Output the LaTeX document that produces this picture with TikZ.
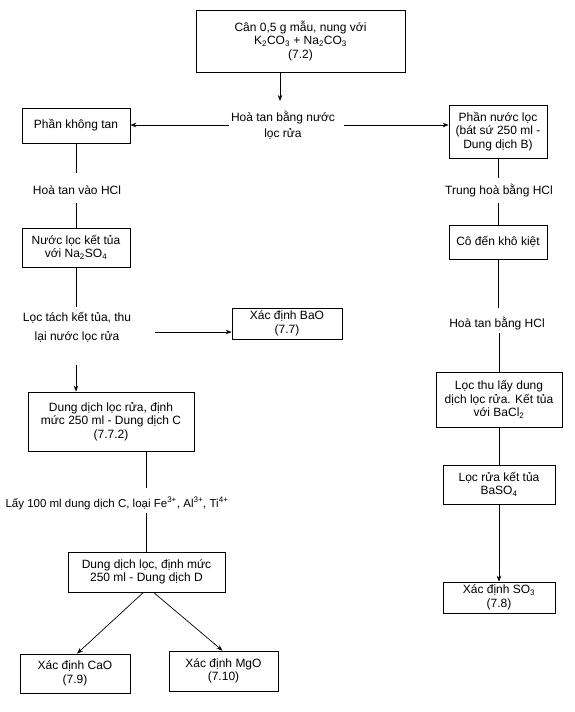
\documentclass[tikz,border=0pt]{standalone}
\usepackage{fontspec}
\setmainfont{Liberation Sans}
\usetikzlibrary{arrows.meta,calc}
\newcommand\fsz{\fontsize{12}{13.5}\selectfont}
\tikzset{
  box/.style={draw, line width=0.7pt, align=center, inner sep=0pt, font=\fsz},
  lbl/.style={align=center, font=\fsz, inner sep=0pt},
  vlbl/.style={font=\fsz, inner xsep=0pt, inner ysep=0pt, anchor=base},
  ln/.style={line width=0.7pt},
  arr/.style={ln, -{Stealth[length=6pt,width=4.5pt]}},
}
\begin{document}
\begin{tikzpicture}[x=1pt,y=-1pt]
\useasboundingbox (0,0) rectangle (575,712);
% top
\node[box, minimum width=209pt, minimum height=62pt] (start) at (300.5,41)
  {Cân 0,5 g mẫu, nung với\\K\textsubscript{2}CO\textsubscript{3} + Na\textsubscript{2}CO\textsubscript{3}\\(7.2)};
\node[lbl] (hoa) at (283,125) {Hoà tan bằng nước\\[3pt]lọc rửa};
\coordinate (hoatip) at (280,101);
\draw[arr] (start.south -| hoatip) -- (hoatip);
% left column
\node[box, minimum width=108pt, minimum height=35pt] (pkt) at (76,125.5) {Phần không tan};
\node[box, minimum width=98pt, minimum height=53pt] (pnl) at (498,131.5)
  {Phần nước lọc\\(bát sứ 250 ml -\\Dung dịch B)};
\draw[arr] ([xshift=-2pt]hoa.west) -- (hoa.west -| pkt.east);
\draw[arr] ([xshift=9pt]hoa.east) -- (hoa.east -| pnl.west);

\node[vlbl, text height=21pt, text depth=9pt] (hcl1) at (77,194) {Hoà tan vào HCl};
\node[box, minimum width=108pt, minimum height=39pt] (nl) at (76,247.5)
  {Nước lọc kết tủa\\với Na\textsubscript{2}SO\textsubscript{4}};
\draw[ln] (pkt.south) -- (pkt.south |- hcl1.north);
\draw[ln] (nl.north |- hcl1.south) -- (nl.north);

\node[lbl] (loc) at (77,327) {Lọc tách kết tủa, thu\\[5.5pt]lại nước lọc rửa};
\node[box, minimum width=110pt, minimum height=31pt] (bao) at (287,323.5) {Xác định BaO\\(7.7)};
\draw[ln] (nl.south) -- ([yshift=-40pt]nl.south);
\draw[arr] ([xshift=24pt,yshift=-5pt]loc.east) -- ([yshift=-5pt]loc.east -| bao.west);

\node[box, minimum width=166pt, minimum height=59pt] (boxC) at (111,421.5)
  {Dung dịch lọc rửa, định\\mức 250 ml - Dung dịch C\\(7.7.2)};
\draw[arr] ([yshift=27pt]nl.south |- boxC.north) -- (nl.south |- boxC.north);

\node[vlbl, text height=19pt, text depth=6pt, font=\fontsize{11.5}{13}\selectfont] (lay) at (117,507)
  {Lấy 100 ml dung dịch C, loại Fe\textsuperscript{3+}, Al\textsuperscript{3+}, Ti\textsuperscript{4+}};
\node[box, minimum width=157pt, minimum height=40pt] (boxD) at (146.5,572)
  {Dung dịch lọc, định mức\\250 ml - Dung dịch D};
\draw[ln] (boxC.south -| boxD.north) -- (lay.north -| boxD.north);
\draw[ln] (lay.south -| boxD.north) -- (boxD.north);

\node[box, minimum width=110pt, minimum height=39pt] (cao) at (75,673.5) {Xác định CaO\\(7.9)};
\node[box, minimum width=109pt, minimum height=40pt] (mgo) at (223.5,671) {Xác định MgO\\(7.10)};
\draw[arr] ([xshift=-3pt]boxD.south) -- ([xshift=2pt]cao.north);
\draw[arr] ([xshift=7pt]boxD.south) -- ([xshift=-1pt]mgo.north);

% right column
\node[vlbl, text height=16pt, text depth=9pt] (trung) at (499,194) {Trung hoà bằng HCl};
\node[box, minimum width=98pt, minimum height=34pt] (co) at (498,242) {Cô đến khô kiệt};
\draw[ln] (pnl.south) -- (pnl.south |- trung.north);
\draw[ln] (co.north |- trung.south) -- (co.north);

\node[vlbl, text height=19pt, text depth=6pt] (hcl2) at (497,327) {Hoà tan bằng HCl};
\node[box, minimum width=126pt, minimum height=55pt] (locthu) at (499,399.5)
  {Lọc thu lấy dung\\dịch lọc rửa. Kết tủa\\với BaCl\textsubscript{2}};
\draw[ln] (co.south) -- (co.south |- hcl2.north);
\draw[ln] (locthu.north |- hcl2.south) -- (locthu.north);

\node[box, minimum width=112pt, minimum height=39pt] (locrua) at (499,484.5)
  {Lọc rửa kết tủa\\BaSO\textsubscript{4}};
\node[box, minimum width=112pt, minimum height=31pt] (so3) at (499,597.5)
  {Xác định SO\textsubscript{3}\\(7.8)};
\draw[ln] (locthu.south) -- (locrua.north);
\draw[arr] (locrua.south) -- (so3.north);
\end{tikzpicture}
\end{document}
